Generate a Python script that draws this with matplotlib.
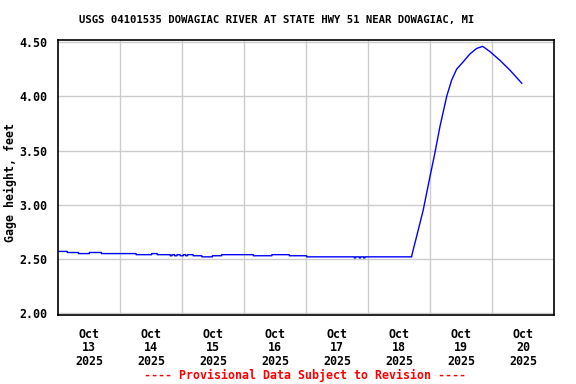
import numpy as np
import matplotlib
matplotlib.use("Agg")
import matplotlib.pyplot as plt

# dias desde 13/out 00:00 e nivel (ft) - trecho plano em degraus
step_days = [0.0, 0.15, 0.33, 0.505, 0.70, 1.26, 1.51, 1.60, 1.81, 1.84, 1.88, 1.92,
             1.97, 2.02, 2.06, 2.09, 2.18, 2.32, 2.49, 2.64, 3.15, 3.45, 3.73, 4.01,
             4.78, 4.80, 4.86, 4.88, 4.93, 4.95, 5.30, 5.33, 5.45, 5.48, 5.705]
step_vals = [2.57, 2.56, 2.55, 2.56, 2.55, 2.54, 2.55, 2.54, 2.53, 2.54, 2.53, 2.54,
             2.53, 2.54, 2.53, 2.54, 2.53, 2.52, 2.53, 2.54, 2.53, 2.54, 2.53, 2.52,
             2.51, 2.52, 2.51, 2.52, 2.51, 2.52, 2.52, 2.52, 2.52, 2.52, 2.53]

# subida e recessao
rise_days = [5.705, 5.785, 5.89, 6.0, 6.08, 6.16, 6.27, 6.35, 6.43, 6.54, 6.645,
             6.75, 6.85, 6.97, 7.13, 7.29, 7.48]
rise_vals = [2.53, 2.71, 2.95, 3.26, 3.48, 3.72, 4.00, 4.15, 4.25, 4.32, 4.39,
             4.44, 4.46, 4.41, 4.33, 4.24, 4.12]

day_labels = ["Oct\n13\n2025", "Oct\n14\n2025", "Oct\n15\n2025", "Oct\n16\n2025",
              "Oct\n17\n2025", "Oct\n18\n2025", "Oct\n19\n2025", "Oct\n20\n2025"]
y_ticks = [2.00, 2.50, 3.00, 3.50, 4.00, 4.50]

# monta a linha em degraus
xs, ys = [], []
for i in range(len(step_days) - 1):
    xs += [step_days[i], step_days[i + 1]]
    ys += [step_vals[i], step_vals[i]]
xs += rise_days
ys += rise_vals

fonte = "DejaVu Sans Mono"
fig = plt.figure(figsize=(5.76, 3.84), dpi=100)
ax = fig.add_axes([58 / 576, 1 - 315 / 384, 496 / 576, 275.5 / 384])

ax.plot(xs, ys, color="#0000ff", linewidth=1.0)

ax.set_xlim(0, 8)
ax.set_ylim(1.984, 4.523)

ax.set_xticks(np.arange(1, 8))
ax.set_xticklabels([])
ax.set_xticks(np.arange(len(day_labels)) + 0.5, minor=True)
ax.set_xticklabels(day_labels, minor=True, fontfamily=fonte, fontweight="bold",
                   fontsize=8.4, linespacing=1.08)
ax.tick_params(axis="x", which="both", length=0, pad=9)

ax.set_yticks(y_ticks)
ax.set_yticklabels([f"{v:.2f}" for v in y_ticks], fontfamily=fonte,
                   fontweight="bold", fontsize=8.4)
ax.tick_params(axis="y", length=0, pad=8)

ax.grid(True, which="major", color="#cccccc", linewidth=1.0)
ax.set_axisbelow(True)
for s in ax.spines.values():
    s.set_linewidth(1.2)

ax.set_ylabel("Gage height, feet", fontfamily=fonte, fontweight="bold",
              fontsize=8.4)
ax.yaxis.set_label_coords(-0.082, 0.48)

fig.text(276.5 / 576, 1 - 20 / 384, "USGS 04101535 DOWAGIAC RIVER AT STATE HWY 51 NEAR DOWAGIAC, MI",
         ha="center", va="center", fontfamily=fonte, fontweight="bold", fontsize=7.7)
fig.text(305.5 / 576, 1 - 375 / 384, "---- Provisional Data Subject to Revision ----",
         ha="center", va="center", fontfamily=fonte, fontweight="bold",
         fontsize=8.4, color="red")

fig.savefig("out.png", dpi=100)
